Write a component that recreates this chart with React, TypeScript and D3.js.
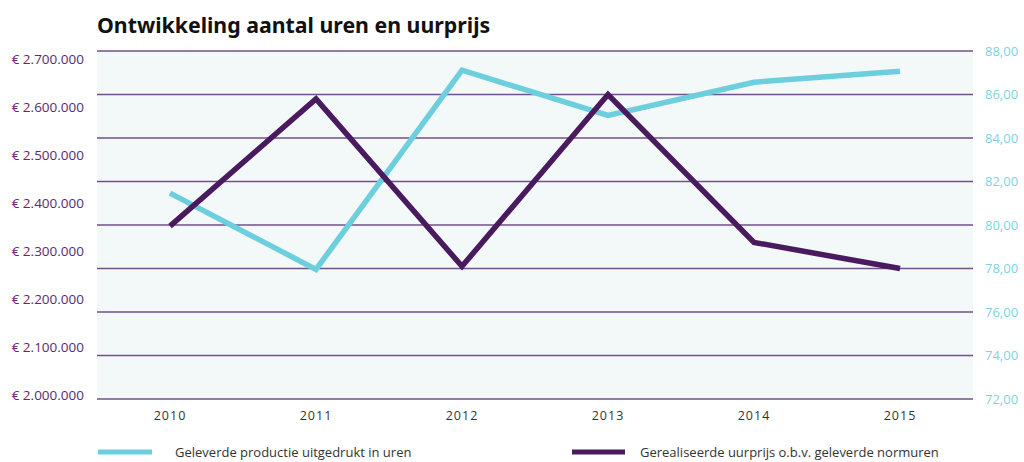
import React from 'react';
import * as d3 from 'd3';

const years = ['2010', '2011', '2012', '2013', '2014', '2015'];
// uren / productie (linker as, in euro's)
const productie = [2429000, 2270000, 2685000, 2591000, 2660000, 2683000];
// uurprijs (rechter as)
const uurprijs = [79.95, 85.8, 78.1, 86.0, 79.2, 78.0];
const leftTicks = [2000000, 2100000, 2200000, 2300000, 2400000, 2500000, 2600000, 2700000];
const rightTicks = [72, 74, 76, 78, 80, 82, 84, 86, 88];
const seriesNames = ['Geleverde productie uitgedrukt in uren', 'Gerealiseerde uurprijs o.b.v. geleverde normuren'];

const W = 1024;
const H = 462;
const plot = { left: 97, right: 973, top: 51, bottom: 399 };
const CYAN = '#6dcfde';
const PURPLE = '#4a1a5e';
const GRID = '#72508a';
const FONT = "'Open Sans', 'Noto Sans', sans-serif";

export default function App() {
  const x = d3.scaleBand<string>().domain(years).range([plot.left, plot.right]);
  const yL = d3.scaleLinear().domain([2000000, 2725000]).range([plot.bottom, plot.top]);
  const yR = d3.scaleLinear().domain([72, 88]).range([plot.bottom, plot.top]);
  const cx = (i: number) => (x(years[i]) as number) + x.bandwidth() / 2;

  const lineL = d3.line<number>().x((_, i) => cx(i)).y(d => yL(d));
  const lineR = d3.line<number>().x((_, i) => cx(i)).y(d => yR(d));

  const fmtEuro = (v: number) => '€ ' + d3.format(',')(v).replace(/,/g, '.');
  const fmtDec = (v: number) => d3.format('.2f')(v).replace('.', ',');

  return (
    <svg width={W} height={H} style={{ position: 'absolute', left: 0, top: 0, fontFamily: FONT }}>
      <rect x={0} y={0} width={W} height={H} fill="#ffffff" />
      <text x={97} y={33} fontSize={21.3} fontWeight={700} fill="#111" style={{ fontFamily: "'Noto Sans', sans-serif" }}>
        Ontwikkeling aantal uren en uurprijs
      </text>

      <rect x={plot.left} y={plot.top} width={plot.right - plot.left} height={plot.bottom - plot.top} fill="#f3f8f8" />

      {/* rasterlijnen */}
      {rightTicks.map(t => (
        <line key={t} x1={plot.left} x2={plot.right} y1={yR(t)} y2={yR(t)} stroke={GRID} strokeWidth={1.3} />
      ))}

      {/* linker as */}
      {leftTicks.map(t => (
        <text key={t} x={84} y={yL(t)} dy="0.1em" textAnchor="end" fontSize={13.5} fill="#5b2a6e">
          {fmtEuro(t)}
        </text>
      ))}

      {/* rechter as */}
      {rightTicks.map(t => (
        <text key={t} x={985} y={yR(t)} dy="0.38em" textAnchor="start" fontSize={13} fill="#7fd3e0">
          {fmtDec(t)}
        </text>
      ))}

      {/* x-as */}
      {years.map((yr, i) => (
        <text key={yr} x={cx(i)} y={420} textAnchor="middle" fontSize={12.5} fill="#333" letterSpacing="1">
          {yr}
        </text>
      ))}

      <path d={lineL(productie) || ''} fill="none" stroke={CYAN} strokeWidth={5.5} strokeLinejoin="miter" />
      <path d={lineR(uurprijs) || ''} fill="none" stroke={PURPLE} strokeWidth={5.5} strokeLinejoin="miter" />

      {/* legenda */}
      <line x1={98} x2={152} y1={452} y2={452} stroke={CYAN} strokeWidth={5} />
      <text x={175} y={452} dy="0.35em" fontSize={13} fill="#333">{seriesNames[0]}</text>
      <line x1={572} x2={625} y1={452} y2={452} stroke={PURPLE} strokeWidth={5} />
      <text x={640} y={452} dy="0.35em" fontSize={13} fill="#333">{seriesNames[1]}</text>
    </svg>
  );
}
